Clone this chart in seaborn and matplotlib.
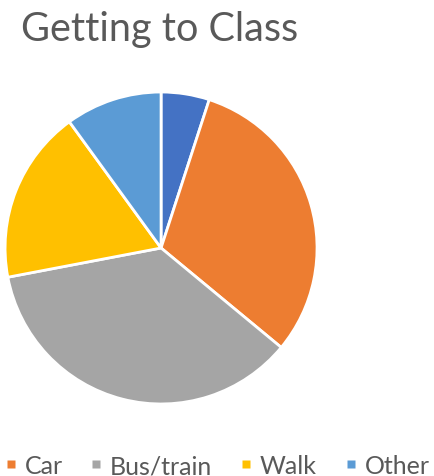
import matplotlib
matplotlib.use("Agg")
import matplotlib.pyplot as plt
from matplotlib.lines import Line2D
import seaborn as sns

categories = ["Bike", "Car", "Bus/train", "Walk", "Other"]
values = [5, 31, 36, 18, 10]
legend_labels = ["Car", "Bus/train", "Walk", "Other"]
colors = ["#4472C4", "#ED7D31", "#A5A5A5", "#FFC000", "#5B9BD5"]

sns.set_theme(style="white")
plt.rcParams['font.family'] = ['Lato', 'DejaVu Sans']

fig = plt.figure(figsize=(4.34, 4.77), dpi=100)
ax = fig.add_axes([0.0116, 0.151, 0.719, 0.654])
wedges, _ = ax.pie(values, colors=colors, startangle=90, counterclock=False,
                   wedgeprops=dict(edgecolor="white", linewidth=2))
ax.set_xlim(-1, 1)
ax.set_ylim(-1, 1)
ax.set_aspect("equal")

fig.text(0.048, 0.915, "Getting to Class", fontsize=28.5, color="#595959",
         ha="left", va="baseline")

handles = [Line2D([0], [0], marker="s", linestyle="none", markersize=6,
                  markerfacecolor=colors[i + 1], markeredgecolor="none")
           for i in range(4)]
fig.legend(handles, legend_labels, loc="center", bbox_to_anchor=(0.5, 0.022),
           ncol=4, frameon=False, fontsize=18, labelcolor="#595959",
           handlelength=0.5, handletextpad=0.3, columnspacing=1.1,
           borderaxespad=0)

fig.savefig("out.png", dpi=100)
